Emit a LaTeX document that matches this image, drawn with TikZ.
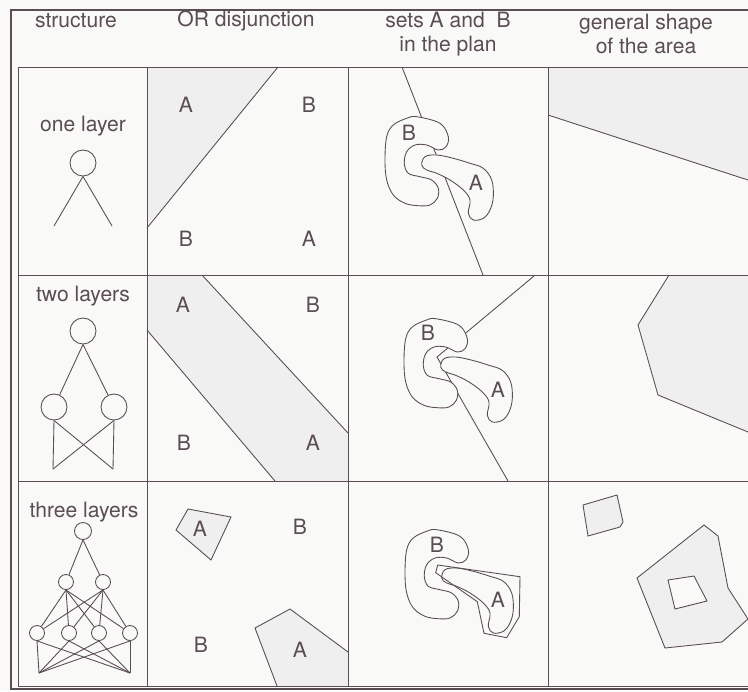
\documentclass[tikz,border=0pt]{standalone}
\usepackage{fontspec}
\setmainfont{TeX Gyre Heros}
\usepackage{tikz}
\usetikzlibrary{positioning, calc}
\definecolor{inkgray}{RGB}{90,77,83}
\definecolor{paper}{RGB}{249,249,248}
\definecolor{shade}{RGB}{240,239,239}
\tikzset{
  frame/.style={draw=inkgray, line width=1.2pt},
  grid/.style={draw=inkgray, line width=0.8pt},
  edge/.style={draw=inkgray, line width=0.75pt},
  region/.style={fill=shade},
  neuron/.style={circle, draw=inkgray, line width=0.75pt, inner sep=0pt,
    minimum size=0.78cm},
  sneuron/.style={neuron, minimum size=0.45cm},
  lbl/.style={text=inkgray, inner sep=0pt, font=\fontsize{18}{21}\selectfont},
  blob/.style={draw=inkgray, fill=paper, line width=0.75pt}
}

\begin{document}
\begin{tikzpicture}[x=0.03cm, y=-0.03cm]
  \useasboundingbox (0,0) rectangle (748,691);
  \fill[paper] (0,0) rectangle (748,691);

  % shaded areas
  \fill[region] (147,67) -- (278,67) -- (147,228) -- cycle;
  \fill[region] (147,275) -- (202,275) -- (348,433) -- (348,481) -- (275,481) -- (147,330) -- cycle;
  \fill[region] (188,509) -- (231,517) -- (211,560) -- (176,530) -- cycle;
  \fill[region] (255,628) -- (290,609) -- (348,652) -- (348,686) -- (277,686) -- cycle;
  \fill[region] (548,67) -- (748,67) -- (748,180) -- (548,115) -- cycle;
  \fill[region] (669,275) -- (748,275) -- (748,432) -- (658,395) -- (638,325) -- cycle;
  \fill[region] (583,505) -- (617,495) -- (623,522) -- (620,527) -- (588,536) -- cycle;
  \fill[region, even odd rule] (637,578) -- (704,525) -- (718,536) -- (728,588) -- (748,619)
    -- (722,642) -- (665,648) -- cycle
    (668,580) -- (694,576) -- (707,601) -- (675,609) -- cycle;

  % frame and table
  \draw[frame] (11,10) rectangle (760,689);
  \draw[grid] (18,67) rectangle (760,686);
  \foreach \x in {147,348,548} \draw[grid] (\x,67) -- (\x,686);
  \foreach \y in {275,481} \draw[grid] (18,\y) -- (760,\y);

  % headings
  \node[lbl] (hstruct) at (76,21) {structure};
  \node[lbl] (hor) at (246,21) {OR disjunction};
  \node[lbl, align=center] (hsets) at (448,34) {sets A and\ \ B\\in the plan};
  \node[lbl, align=center] (hshape) at (646,34) {general shape\\of the area};

  % one layer
  \node[lbl] (l1) at (83,126) {one layer};
  \node[neuron] (o1) at (83,163) {};
  \coordinate (x11) at (54,226);
  \coordinate (x12) at (112,226);
  \draw[edge] (o1.south) -- (x11);
  \draw[edge] (o1.south) -- (x12);

  % two layers
  \node[lbl] (l2) at (83,296) {two layers};
  \node[neuron] (o2) at (83,331) {};
  \node[neuron] (h21) at (54,407) {};
  \node[neuron] (h22) at (114,407) {};
  \coordinate (x21) at (53,469);
  \coordinate (x22) at (113,469);
  \foreach \h in {h21,h22} {
    \draw[edge] (o2.south) -- (\h);
    \draw[edge] (\h.south) -- (x21);
    \draw[edge] (\h.south) -- (x22);
  }

  % three layers
  \node[lbl] (l3) at (84,512) {three layers};
  \node[sneuron, minimum size=0.51cm] (o3) at (83,531) {};
  \node[sneuron] (h31) at (66,582) {};
  \node[sneuron] (h32) at (103,582) {};
  \foreach \x [count=\i] in {37,69,99,130}
    \node[sneuron] (g3\i) at (\x,633) {};
  \coordinate (x31) at (39,673);
  \coordinate (x32) at (130,673);
  \foreach \h in {h31,h32} {
    \draw[edge] (o3.south) -- (\h);
    \foreach \i in {1,...,4}
      \draw[edge] (\h.south) -- (g3\i);
  }
  \foreach \i in {1,...,4} {
    \draw[edge] (g3\i.south) -- (x31);
    \draw[edge] (g3\i.south) -- (x32);
  }

  % OR disjunction
  \draw[edge] (278,67) -- (147,228);
  \draw[edge] (202,275) -- (348,433);
  \draw[edge] (147,330) -- (275,481);
  \draw[edge] (188,509) -- (231,517) -- (211,560) -- (176,530) -- cycle;
  \draw[edge] (277,686) -- (255,628) -- (290,609) -- (348,652);
  \node[lbl] (a11) at (186,105) {A};
  \node[lbl] (b11) at (309,105) {B};
  \node[lbl] (b12) at (186,239) {B};
  \node[lbl] (a12) at (309,239) {A};
  \node[lbl] (a21) at (183,305) {A};
  \node[lbl] (b21) at (313,305) {B};
  \node[lbl] (b22) at (184,443) {B};
  \node[lbl] (a22) at (313,443) {A};
  \node[lbl] (a31) at (200,529) {A};
  \node[lbl] (b31) at (300,527) {B};
  \node[lbl] (b32) at (201,645) {B};
  \node[lbl] (a32) at (300,650) {A};

  % sets in the plan
  \draw[edge] (402,67) -- (483,275);
  \draw[edge] (534,276) -- (437,357) -- (508,481);
  \foreach \dx/\dy in {0/0, 19/202, 20/413} {
    \begin{scope}[shift={(\dx,\dy)}]
      \draw[blob] plot[smooth cycle, tension=0.6] coordinates {
        (416.7,116.7) (440,123.3) (448.3,136.7) (446,146.7) (438.3,150)
        (426.7,145) (415,145) (406.7,151.7) (404.3,163.3) (408.3,173.3)
        (420,176.7) (431.7,180) (438.3,188.3) (437.3,198.3) (430,205)
        (418.3,205.7) (405,203.3) (393.3,195) (386.7,180) (385,160)
        (386.7,136.7) (393.3,125) (406.7,118.3)};
      \draw[blob] plot[smooth cycle, tension=0.6] coordinates {
        (425,156.7) (436.7,155) (453.3,158.3) (470,163.3) (483.3,168.3)
        (491.7,180) (493.3,196.7) (490,210) (483.3,218.3) (473.3,220)
        (468.3,213.3) (470,200) (463.3,190) (450,180) (436.7,173.3)
        (426.7,170) (421.7,165)};
    \end{scope}
  }
  \draw[edge] (437.7,565) -- (520,576.7) -- (519.3,616.7) -- (506.7,637.7)
    -- (484,633.3) -- (477.3,601.7) -- (435.7,572.7) -- cycle;
  \node[lbl] (sb1) at (409,133) {B};
  \node[lbl] (sa1) at (476,183) {A};
  \node[lbl] (sb2) at (428,333) {B};
  \node[lbl] (sa2) at (498,390) {A};
  \node[lbl] (sb3) at (437,545) {B};
  \node[lbl] (sa3) at (498,600) {A};

  % general shape of the area
  \draw[edge] (548,115) -- (748,180);
  \draw[edge] (669,275) -- (638,325) -- (658,395) -- (748,432);
  \draw[edge] (583,505) -- (617,495) -- (623,522) -- (620,527) -- (588,536) -- cycle;
  \draw[edge] (637,578) -- (704,525) -- (718,536) -- (728,588) -- (748,619)
    -- (722,642) -- (665,648) -- cycle;
  \draw[edge] (668,580) -- (694,576) -- (707,601) -- (675,609) -- cycle;
\end{tikzpicture}
\end{document}
